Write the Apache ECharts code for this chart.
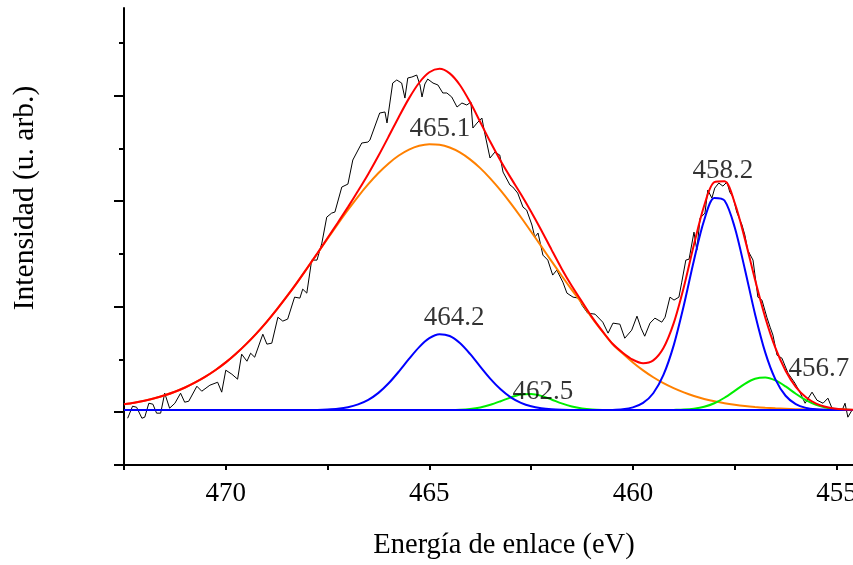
<!DOCTYPE html>
<html><head><meta charset="utf-8">
<script src="https://cdn.jsdelivr.net/npm/echarts@6/dist/echarts.min.js"></script>
<style>html,body{margin:0;padding:0;background:#fff}#chart{width:853px;height:565px}</style>
</head><body><div id="chart"></div>
<script>
// Raw XPS spectrum (binding energy eV, intensity a.u.)
const rawEnergy = [472.41, 472.29, 472.19, 472.06, 471.99, 471.89, 471.79, 471.70, 471.60, 471.50,
  471.38, 471.25, 471.11, 471.01, 470.91, 470.71, 470.59, 470.39, 470.20, 470.10,
  470.00, 469.85, 469.71, 469.61, 469.48, 469.39, 469.29, 469.09, 468.99, 468.87,
  468.72, 468.60, 468.48, 468.31, 468.18, 468.11, 468.01, 467.89, 467.76, 467.64,
  467.52, 467.40, 467.32, 467.15, 467.00, 466.88, 466.66, 466.51, 466.46, 466.22,
  466.09, 466.04, 465.90, 465.80, 465.68, 465.60, 465.53, 465.43, 465.31, 465.23,
  465.18, 465.11, 465.04, 464.91, 464.79, 464.67, 464.57, 464.45, 464.32, 464.20,
  464.08, 463.98, 463.93, 463.83, 463.71, 463.64, 463.51, 463.39, 463.27, 463.19,
  463.02, 462.95, 462.83, 462.70, 462.61, 462.48, 462.41, 462.33, 462.21, 462.09,
  461.97, 461.87, 461.72, 461.62, 461.47, 461.33, 461.25, 461.11, 460.93, 460.74,
  460.61, 460.49, 460.32, 460.20, 460.03, 459.90, 459.80, 459.71, 459.58, 459.46,
  459.29, 459.21, 459.09, 458.99, 458.87, 458.80, 458.70, 458.62, 458.50, 458.43,
  458.35, 458.23, 458.16, 458.06, 457.99, 457.89, 457.79, 457.69, 457.62, 457.54,
  457.45, 457.32, 457.25, 457.18, 457.05, 456.93, 456.83, 456.71, 456.63, 456.56,
  456.46, 456.34, 456.19, 456.02, 455.90, 455.77, 455.60, 455.48, 455.33, 455.21,
  455.11, 454.99, 454.86, 454.79, 454.72, 454.62];
const rawIntensity = [-0.057, 0.057, 0.047, -0.057, -0.047, 0.085, 0.076, -0.009, -0.009, 0.180,
  0.038, 0.085, 0.180, 0.095, 0.104, 0.246, 0.199, 0.256, 0.284, 0.190,
  0.398, 0.360, 0.313, 0.550, 0.483, 0.559, 0.521, 0.739, 0.645, 0.654,
  0.900, 0.863, 0.882, 1.090, 1.081, 1.166, 1.128, 1.441, 1.441, 1.602,
  1.848, 1.886, 1.896, 2.133, 2.161, 2.389, 2.550, 2.559, 2.578, 2.834,
  2.844, 2.740, 3.118, 3.147, 3.118, 2.976, 3.166, 3.175, 3.194, 3.100,
  2.986, 3.109, 3.156, 3.118, 3.100, 3.024, 3.024, 2.986, 2.891, 2.929,
  2.910, 2.938, 2.692, 2.739, 2.787, 2.645, 2.408, 2.464, 2.436, 2.275,
  2.152, 2.133, 2.076, 1.943, 1.915, 1.773, 1.659, 1.697, 1.488, 1.441,
  1.299, 1.346, 1.232, 1.128, 1.090, 1.081, 1.014, 0.938, 0.929, 0.853,
  0.749, 0.844, 0.834, 0.701, 0.777, 0.910, 0.796, 0.720, 0.844, 0.891,
  0.853, 0.900, 1.090, 1.062, 1.090, 1.232, 1.441, 1.450, 1.706, 1.536,
  1.839, 1.886, 2.104, 2.028, 2.123, 2.171, 2.142, 2.180, 2.085, 2.038,
  1.896, 1.773, 1.678, 1.536, 1.441, 1.090, 1.062, 0.900, 0.806, 0.730,
  0.540, 0.512, 0.370, 0.275, 0.190, 0.085, 0.190, 0.114, 0.085, 0.133,
  0.038, 0.019, 0.019, 0.085, -0.047, 0.019];

// Fitted curves, sampled every 0.25 eV from 472.5 to 454.5
const fitEnergy = [472.5, 472.25, 472.0, 471.75, 471.5, 471.25, 471.0, 470.75, 470.5, 470.25,
  470.0, 469.75, 469.5, 469.25, 469.0, 468.75, 468.5, 468.25, 468.0, 467.75,
  467.5, 467.25, 467.0, 466.75, 466.5, 466.25, 466.0, 465.75, 465.5, 465.25,
  465.0, 464.75, 464.5, 464.25, 464.0, 463.75, 463.5, 463.25, 463.0, 462.75,
  462.5, 462.25, 462.0, 461.75, 461.5, 461.25, 461.0, 460.75, 460.5, 460.25,
  460.0, 459.75, 459.5, 459.25, 459.0, 458.75, 458.5, 458.25, 458.0, 457.75,
  457.5, 457.25, 457.0, 456.75, 456.5, 456.25, 456.0, 455.75, 455.5, 455.25,
  455.0, 454.75, 454.5];
const fitSum = [0.075, 0.090, 0.109, 0.132, 0.160, 0.194, 0.234, 0.282, 0.337, 0.400,
  0.472, 0.554, 0.645, 0.745, 0.854, 0.972, 1.097, 1.228, 1.366, 1.506,
  1.650, 1.795, 1.943, 2.097, 2.257, 2.429, 2.611, 2.797, 2.973, 3.121,
  3.220, 3.253, 3.210, 3.100, 2.938, 2.749, 2.559, 2.382, 2.220, 2.064,
  1.899, 1.724, 1.540, 1.360, 1.195, 1.047, 0.898, 0.768, 0.648, 0.564,
  0.497, 0.464, 0.491, 0.608, 0.841, 1.184, 1.588, 1.956, 2.179, 2.187,
  1.984, 1.642, 1.255, 0.898, 0.609, 0.393, 0.241, 0.142, 0.082, 0.049,
  0.032, 0.025, 0.022];
const peak4651 = [0.075, 0.090, 0.109, 0.132, 0.160, 0.194, 0.234, 0.282, 0.337, 0.400,
  0.472, 0.554, 0.645, 0.745, 0.854, 0.972, 1.097, 1.228, 1.365, 1.504,
  1.644, 1.782, 1.916, 2.043, 2.160, 2.266, 2.357, 2.432, 2.488, 2.524,
  2.539, 2.534, 2.507, 2.461, 2.395, 2.312, 2.213, 2.101, 1.978, 1.847,
  1.710, 1.571, 1.431, 1.293, 1.159, 1.031, 0.892, 0.765, 0.645, 0.556,
  0.471, 0.396, 0.331, 0.275, 0.228, 0.188, 0.154, 0.126, 0.104, 0.085,
  0.070, 0.058, 0.049, 0.042, 0.037, 0.033, 0.029, 0.027, 0.025, 0.024,
  0.023, 0.022, 0.021];
const peak4642 = [0.020, 0.020, 0.020, 0.020, 0.020, 0.020, 0.020, 0.020, 0.020, 0.020,
  0.020, 0.020, 0.020, 0.020, 0.020, 0.020, 0.020, 0.020, 0.021, 0.022,
  0.026, 0.033, 0.047, 0.074, 0.117, 0.183, 0.274, 0.385, 0.505, 0.617,
  0.701, 0.739, 0.722, 0.655, 0.552, 0.432, 0.316, 0.217, 0.141, 0.089,
  0.056, 0.038, 0.028, 0.023, 0.021, 0.020, 0.020, 0.020, 0.020, 0.020,
  0.020, 0.020, 0.020, 0.020, 0.020, 0.020, 0.020, 0.020, 0.020, 0.020,
  0.020, 0.020, 0.020, 0.020, 0.020, 0.020, 0.020, 0.020, 0.020, 0.020,
  0.020, 0.020, 0.020];
const peak4625 = [0.020, 0.020, 0.020, 0.020, 0.020, 0.020, 0.020, 0.020, 0.020, 0.020,
  0.020, 0.020, 0.020, 0.020, 0.020, 0.020, 0.020, 0.020, 0.020, 0.020,
  0.020, 0.020, 0.020, 0.020, 0.020, 0.020, 0.020, 0.020, 0.020, 0.020,
  0.020, 0.020, 0.021, 0.024, 0.031, 0.045, 0.070, 0.104, 0.141, 0.168,
  0.173, 0.155, 0.121, 0.084, 0.055, 0.036, 0.026, 0.022, 0.021, 0.020,
  0.020, 0.020, 0.020, 0.020, 0.020, 0.020, 0.020, 0.020, 0.020, 0.020,
  0.020, 0.020, 0.020, 0.020, 0.020, 0.020, 0.020, 0.020, 0.020, 0.020,
  0.020, 0.020, 0.020];
const peak4582 = [0.020, 0.020, 0.020, 0.020, 0.020, 0.020, 0.020, 0.020, 0.020, 0.020,
  0.020, 0.020, 0.020, 0.020, 0.020, 0.020, 0.020, 0.020, 0.020, 0.020,
  0.020, 0.020, 0.020, 0.020, 0.020, 0.020, 0.020, 0.020, 0.020, 0.020,
  0.020, 0.020, 0.020, 0.020, 0.020, 0.020, 0.020, 0.020, 0.020, 0.020,
  0.020, 0.020, 0.020, 0.020, 0.020, 0.020, 0.020, 0.021, 0.022, 0.028,
  0.046, 0.088, 0.180, 0.353, 0.631, 1.011, 1.440, 1.818, 2.030, 2.005,
  1.752, 1.355, 0.929, 0.567, 0.311, 0.156, 0.077, 0.041, 0.027, 0.022,
  0.020, 0.020, 0.020];
const peak4567 = [0.020, 0.020, 0.020, 0.020, 0.020, 0.020, 0.020, 0.020, 0.020, 0.020,
  0.020, 0.020, 0.020, 0.020, 0.020, 0.020, 0.020, 0.020, 0.020, 0.020,
  0.020, 0.020, 0.020, 0.020, 0.020, 0.020, 0.020, 0.020, 0.020, 0.020,
  0.020, 0.020, 0.020, 0.020, 0.020, 0.020, 0.020, 0.020, 0.020, 0.020,
  0.020, 0.020, 0.020, 0.020, 0.020, 0.020, 0.020, 0.020, 0.020, 0.020,
  0.020, 0.020, 0.020, 0.020, 0.022, 0.025, 0.034, 0.052, 0.085, 0.137,
  0.202, 0.269, 0.317, 0.329, 0.301, 0.244, 0.175, 0.114, 0.070, 0.043,
  0.029, 0.023, 0.021];

// Peak annotations (text, anchor energy, anchor intensity)
const peakLabels = ['465.1', '458.2', '464.2', '462.5', '456.7'];
const peakLabelEnergy = [464.74, 457.79, 464.39, 462.21, 455.43];
const peakLabelIntensity = [2.683, 2.284, 0.896, 0.194, 0.408];

const FONT = 'Liberation Serif';
const pairs = (xs, ys) => xs.map((x, i) => [x, ys[i]]);
const tickStyle = { color: '#000', width: 2 };

function fitLine(name, ys, color, z) {
  return {
    name, type: 'line', xAxisIndex: 0, yAxisIndex: 0,
    data: pairs(fitEnergy, ys), showSymbol: false, symbol: 'none',
    smooth: 0.3, lineStyle: { color, width: 2 }, itemStyle: { color },
    z, silent: true, emphasis: { disabled: true }
  };
}

const chart = echarts.init(document.getElementById('chart'), null, { renderer: 'canvas' });
const option = {
  animation: false,
  backgroundColor: '#fff',
  grid: [
    { left: 124, top: 8, width: 814.25, height: 457, containLabel: false, outerBoundsMode: 'none' },
    { left: 124, top: 42.73, width: 814.25, height: 422.27, containLabel: false, outerBoundsMode: 'none' },
    { left: 124, top: 412.22, width: 814.25, height: 52.78, containLabel: false, outerBoundsMode: 'none' }
  ],
  xAxis: [
    {
      gridIndex: 0, type: 'value', inverse: true, min: 452.5, max: 472.5, interval: 2.5,
      axisLine: { show: true, onZero: false, lineStyle: { color: '#000', width: 2 } },
      axisTick: { show: true, length: 5, lineStyle: tickStyle },
      axisLabel: {
        margin: 15, fontSize: 27, fontFamily: FONT, color: '#000',
        formatter: v => (Math.abs(v % 5) < 1e-6 ? String(v) : '')
      },
      splitLine: { show: false }
    },
    { gridIndex: 1, type: 'value', show: false, min: 0, max: 1 },
    { gridIndex: 2, type: 'value', show: false, min: 0, max: 1 }
  ],
  yAxis: [
    {
      gridIndex: 0, type: 'value', min: -0.5, max: 3.829,
      axisLine: { show: true, onZero: false, lineStyle: { color: '#000', width: 2 } },
      axisTick: { show: false }, axisLabel: { show: false }, splitLine: { show: false }
    },
    {
      gridIndex: 1, type: 'value', min: -0.5, max: 3.5, interval: 1,
      axisLine: { show: false },
      axisTick: { show: true, length: 5, lineStyle: tickStyle },
      minorTick: { show: true, splitNumber: 2, length: 10, lineStyle: tickStyle },
      axisLabel: { show: false }, splitLine: { show: false }, minorSplitLine: { show: false }
    },
    {
      gridIndex: 2, type: 'value', min: -0.5, max: 0, interval: 0.5,
      axisLine: { show: false },
      axisTick: { show: true, length: 10, lineStyle: tickStyle },
      axisLabel: { show: false }, splitLine: { show: false }
    }
  ],
  graphic: [
    {
      type: 'text', x: 504, y: 546, silent: true,
      style: { text: 'Energía de enlace (eV)', fontSize: 28.5, fontFamily: FONT, fill: '#000', align: 'center', verticalAlign: 'middle' }
    },
    {
      type: 'text', x: 25, y: 198, rotation: Math.PI / 2, silent: true,
      style: { text: 'Intensidad (u. arb.)', fontSize: 29.5, fontFamily: FONT, fill: '#000', align: 'center', verticalAlign: 'middle' }
    }
  ],
  series: [
    {
      name: 'Experimental', type: 'line', xAxisIndex: 0, yAxisIndex: 0,
      data: pairs(rawEnergy, rawIntensity), showSymbol: false, symbol: 'none',
      lineStyle: { color: '#000', width: 1 }, itemStyle: { color: '#000' },
      z: 2, silent: true, emphasis: { disabled: true }
    },
    fitLine('465.1', peak4651, '#ff8000', 3),
    fitLine('462.5', peak4625, '#00ee00', 4),
    fitLine('456.7', peak4567, '#00ee00', 4),
    fitLine('464.2', peak4642, '#0000ff', 5),
    fitLine('458.2', peak4582, '#0000ff', 5),
    fitLine('Suma', fitSum, '#ff0000', 6),
    {
      name: 'labels', type: 'scatter', xAxisIndex: 0, yAxisIndex: 0,
      data: pairs(peakLabelEnergy, peakLabelIntensity), symbolSize: 1,
      itemStyle: { color: 'rgba(0,0,0,0)' },
      label: {
        show: true, position: 'inside', formatter: p => peakLabels[p.dataIndex],
        fontSize: 27, fontFamily: FONT, color: '#000'
      },
      z: 10, silent: true, emphasis: { disabled: true }
    }
  ]
};
chart.setOption(option);
</script></body></html>
